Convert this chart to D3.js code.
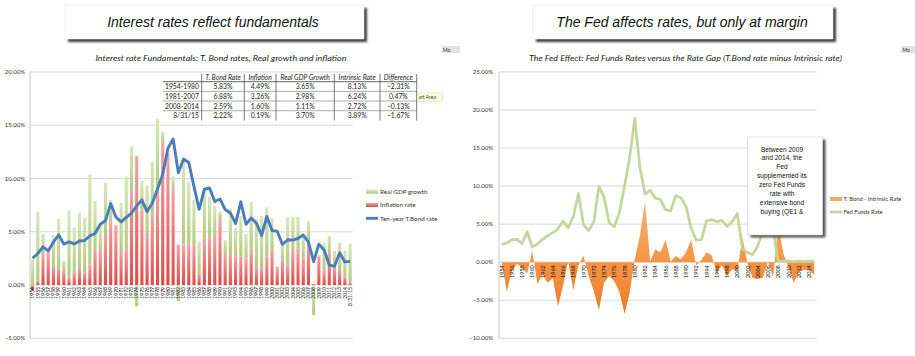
<!DOCTYPE html>
<html>
<head>
<meta charset="utf-8">
<script src="https://cdn.jsdelivr.net/npm/d3@7"></script>
<style>
  html, body { margin: 0; padding: 0; background: #ffffff; }
  svg { display: block; }
</style>
</head>
<body>
<script>
// ---------------- DATA ----------------
const leftCategories = ["1954","1955","1956","1957","1958","1959","1960","1961","1962","1963","1964","1965","1966","1967","1968","1969","1970","1971","1972","1973","1974","1975","1976","1977","1978","1979","1980","1981","1982","1983","1984","1985","1986","1987","1988","1989","1990","1991","1992","1993","1994","1995","1996","1997","1998","1999","2000","2001","2002","2003","2004","2005","2006","2007","2008","2009","2010","2011","2012","2013","2014","8/31/15"];
const inflationRate = [-0.5,0.4,2.9,3.0,1.8,1.5,1.4,0.7,1.2,1.6,1.2,1.9,3.4,3.2,4.7,6.0,5.6,3.3,3.4,8.9,12.1,7.1,4.9,6.7,9.0,13.3,12.4,8.9,3.8,3.8,3.9,3.8,1.1,4.4,4.4,4.6,6.2,2.9,2.9,2.7,2.7,2.5,3.4,1.7,1.6,2.7,3.4,1.6,2.4,1.9,3.3,3.4,2.5,4.1,0.1,2.7,1.4,3.0,1.7,1.5,0.8,0.19];
const realGdpGrowth = [2.4,6.5,1.9,0.2,2.9,4.7,0.9,6.3,4.2,5.2,5.1,8.5,4.5,2.4,4.9,2.0,0.0,4.4,6.8,4.1,-2.0,2.7,4.5,4.9,6.6,1.1,0.0,1.3,-1.5,8.0,5.8,4.2,3.0,4.5,3.9,2.8,0.7,1.3,4.3,2.7,3.8,2.3,4.4,4.5,4.9,4.6,2.9,0.2,1.6,4.5,3.1,3.0,2.2,1.9,-2.8,0.1,2.6,1.6,1.5,2.5,2.4,3.70];
const tenYearTBond = [2.51,2.96,3.59,3.21,4.02,4.72,3.84,4.06,3.86,4.13,4.18,4.62,4.84,5.70,6.03,7.65,6.39,5.93,6.36,6.74,7.43,8.00,6.87,7.69,9.01,10.39,12.84,13.72,10.54,11.83,11.50,9.26,7.11,8.99,9.11,7.84,8.08,7.09,6.77,5.77,7.81,5.71,6.30,5.81,4.65,6.44,5.11,5.05,3.81,4.25,4.22,4.39,4.70,4.02,2.21,3.84,3.29,1.88,1.76,3.04,2.17,2.22];
const leftTicks = [-5,0,5,10,15,20];

const tableRowLabels = ["1954-1980","1981-2007","2008-2014","8/31/15"];
const tableHeaders = ["T. Bond Rate","Inflation","Real GDP Growth","Intrinsic Rate","Difference"];
const tableValues = [
  [5.83,4.49,3.65,8.13,-2.31],
  [6.88,3.26,2.98,6.24,0.47],
  [2.59,1.60,1.11,2.72,-0.13],
  [2.22,0.19,3.70,3.89,-1.67]
];

const rightYears = d3.range(1954, 2016).map(String);
const rateGap = [0.3,-3.9,-1.2,-0.2,-0.7,-1.5,1.5,-2.9,-1.6,-2.7,-2.1,-5.8,-3.1,0.1,-3.7,-0.4,0.8,-1.8,-3.8,-6.3,-2.7,-1.8,-2.5,-3.9,-6.8,-4.0,0.4,3.5,8.0,0.1,1.7,1.3,2.9,0.1,0.8,0.4,1.3,2.9,-0.4,0.3,1.3,0.9,-1.5,-0.4,-1.8,-0.9,-1.2,3.3,-0.2,-2.1,-2.2,-2.0,0.1,-2.0,5.0,1.1,-0.7,-2.7,-1.3,-1.0,-1.0,-1.67];
const fedFundsRate = [2.35,2.5,2.95,3.0,2.45,4.0,2.0,2.4,3.0,3.45,3.9,4.35,5.4,4.5,6.0,9.0,4.9,4.15,5.3,9.95,8.55,5.2,4.65,6.55,10.0,13.8,18.9,12.4,8.95,9.45,8.4,8.25,6.9,6.75,8.75,8.45,7.3,4.45,2.9,2.95,5.45,5.6,5.3,5.5,4.7,5.3,6.4,1.8,1.25,1.0,2.15,4.15,5.25,4.25,0.15,0.12,0.18,0.07,0.16,0.09,0.12,0.14];
const rightTicks = [-10,-5,0,5,10,15,20,25];

const leftTitle = "Interest rates reflect fundamentals";
const rightTitle = "The Fed affects rates, but only at margin";
const leftSubtitle = "Interest rate Fundamentals: T. Bond rates, Real growth and inflation";
const rightSubtitle = "The Fed Effect: Fed Funds Rates versus the Rate Gap (T.Bond rate minus Intrinsic rate)";
const leftLegend = ["Real GDP growth","Inflation rate","Ten-year T.Bond rate"];
const rightLegend = ["T. Bond - Intrinsic Rate","Fed Funds Rate"];
const noteLines = ["Between 2009","and 2014, the","Fed","supplemented its","zero Fed Funds","rate with","extensive bond","buying (QE1 &"];

// ---------------- SETUP ----------------
const svg = d3.select("body").append("svg").attr("width", 915).attr("height", 356);
const defs = svg.append("defs");
const cal = "Lato, 'Open Sans', sans-serif";
const arial = "'Liberation Sans', Arial, sans-serif";

function vgrad(id, stops, units, y1, y2) {
  const g = defs.append("linearGradient").attr("id", id).attr("x1", 0).attr("x2", 0);
  if (units) { g.attr("gradientUnits", "userSpaceOnUse").attr("y1", y1).attr("y2", y2); }
  else { g.attr("y1", 0).attr("y2", 1); }
  stops.forEach(s => g.append("stop").attr("offset", s[0]).attr("stop-color", s[1]));
}
vgrad("gGreen", [[0,"#d9e7bd"],[1,"#b2cc7e"]]);
vgrad("gRed", [[0,"#f2a6a4"],[1,"#dc4b48"]]);
vgrad("gArea", [[0,"#fde6d2"],[0.45,"#faad6e"],[0.7,"#f79646"],[1,"#e8792a"]], true, 120, 318);
const blur = defs.append("filter").attr("id", "blur").attr("x", "-10%").attr("y", "-10%").attr("width", "130%").attr("height", "130%");
blur.append("feGaussianBlur").attr("stdDeviation", 1);

// ---------------- TITLE BOXES ----------------
function titleBox(x, y, w, h, text, cx) {
  svg.append("rect").attr("x", x + 3).attr("y", y + 3).attr("width", w).attr("height", h)
    .attr("fill", "#404040").attr("filter", "url(#blur)");
  svg.append("rect").attr("x", x).attr("y", y).attr("width", w).attr("height", h)
    .attr("fill", "#ffffff").attr("stroke", "#e6e6e6").attr("stroke-width", 0.6);
  svg.append("text").attr("x", cx).attr("y", y + h / 2 + 5).attr("text-anchor", "middle")
    .attr("font-family", arial).attr("font-style", "italic").attr("font-size", 14).attr("fill", "#111")
    .text(text);
}
titleBox(65, 5, 299, 34, leftTitle, 213);
titleBox(533, 5, 300, 34, rightTitle, 682);

// ---------------- LEFT CHART ----------------
const yL = d3.scaleLinear().domain([-5, 20]).range([338.3, 72]);
const xL = d3.scaleBand().domain(leftCategories).range([30, 352.7]).paddingInner(0.4).paddingOuter(0.2);
const cL = d => xL(d) + xL.bandwidth() / 2;
const gL = svg.append("g");

gL.append("text").attr("x", 221).attr("y", 60.5).attr("text-anchor", "middle")
  .attr("font-family", cal).attr("font-style", "italic").attr("font-size", 8.5).attr("fill", "#222")
  .attr("textLength", 251).attr("lengthAdjust", "spacingAndGlyphs").text(leftSubtitle);

gL.selectAll(".gl").data(leftTicks).join("line")
  .attr("x1", 30).attr("x2", 352.7).attr("y1", d => yL(d)).attr("y2", d => yL(d))
  .attr("stroke", "#d9d9d9").attr("stroke-width", 1);
gL.append("line").attr("x1", 30).attr("x2", 30).attr("y1", yL(20)).attr("y2", yL(-5)).attr("stroke", "#c8c8c8");
gL.selectAll(".tl").data(leftTicks).join("text")
  .attr("x", 25).attr("y", d => yL(d) + 2).attr("text-anchor", "end")
  .attr("font-family", cal).attr("font-size", 6).attr("fill", "#333")
  .text(d => d3.format(".2f")(d) + "%");

const leftRows = leftCategories.map((c, i) => ({ cat: c, infl: inflationRate[i], growth: realGdpGrowth[i] }));
const stack = d3.stack().keys(["infl", "growth"]).offset(d3.stackOffsetDiverging)(leftRows);
const fills = { infl: "url(#gRed)", growth: "url(#gGreen)" };
stack.forEach(layer => {
  gL.append("g").selectAll("rect").data(layer).join("rect")
    .attr("x", d => xL(d.data.cat)).attr("width", xL.bandwidth())
    .attr("y", d => yL(Math.max(d[0], d[1])))
    .attr("height", d => Math.abs(yL(d[0]) - yL(d[1])))
    .attr("fill", fills[layer.key]);
});

gL.append("path").datum(tenYearTBond)
  .attr("d", d3.line().x((d, i) => cL(leftCategories[i])).y(d => yL(d)))
  .attr("fill", "none").attr("stroke", "#4a7ebb").attr("stroke-width", 2.9).attr("stroke-linejoin", "round");

gL.selectAll(".xl").data(leftCategories).join("text")
  .attr("transform", d => `translate(${cL(d) + 1.8},${yL(0) + 2}) rotate(-90)`)
  .attr("text-anchor", "end").attr("font-family", cal).attr("font-size", 5).attr("fill", "#111")
  .text(d => d);

// legend
const legY = [191.7, 205, 218.3];
gL.append("rect").attr("x", 366).attr("y", legY[0] - 2).attr("width", 12).attr("height", 4).attr("fill", "url(#gGreen)");
gL.append("rect").attr("x", 366).attr("y", legY[1] - 2).attr("width", 12).attr("height", 4).attr("fill", "url(#gRed)");
gL.append("line").attr("x1", 366).attr("x2", 378).attr("y1", legY[2]).attr("y2", legY[2]).attr("stroke", "#4a7ebb").attr("stroke-width", 2.9);
gL.selectAll(".lg").data(leftLegend).join("text")
  .attr("x", 380).attr("y", (d, i) => legY[i] + 2.2)
  .attr("font-family", cal).attr("font-size", 6.3).attr("fill", "#333").text(d => d);

// table
const colX = [163, 201.7, 244.3, 276, 334.3, 380, 416.7];
const rowLineY = [81.7, 91.4, 101, 110.7];
const tg = gL.append("g").attr("font-family", cal).attr("font-size", 6.8).attr("fill", "#222");
tg.append("rect").attr("x", 163).attr("y", 73.5).attr("width", 253.7).attr("height", 47).attr("fill", "#fff");
tg.selectAll(".hl").data(rowLineY).join("line")
  .attr("x1", 163).attr("x2", 416.7).attr("y1", d => d).attr("y2", d => d)
  .attr("stroke", (d, i) => i === 0 ? "#555" : "#888").attr("stroke-width", (d, i) => i === 0 ? 0.9 : 0.7);
tg.selectAll(".vl").data(colX.slice(1)).join("line")
  .attr("x1", d => d).attr("x2", d => d).attr("y1", 74).attr("y2", 120.5)
  .attr("stroke", "#555").attr("stroke-width", 0.8);
tg.selectAll(".th").data(tableHeaders).join("text")
  .attr("x", (d, i) => (colX[i + 1] + colX[i + 2]) / 2).attr("y", 79.6).attr("text-anchor", "middle")
  .attr("font-style", "italic").text(d => d);
tg.selectAll(".rl").data(tableRowLabels).join("text")
  .attr("x", 199).attr("y", (d, i) => 89.3 + i * 9.7).attr("text-anchor", "end").text(d => d);
tableValues.forEach((row, r) => {
  tg.selectAll(".tv" + r).data(row).join("text")
    .attr("x", (d, i) => (colX[i + 1] + colX[i + 2]) / 2).attr("y", 89.3 + r * 9.7).attr("text-anchor", "middle")
    .text(d => d3.format(".2f")(d) + "%");
});

// small UI artifacts
svg.append("rect").attr("x", 417.5).attr("y", 93).attr("width", 25).attr("height", 8.5).attr("fill", "#ffffe1").attr("stroke", "#d8d8b0").attr("stroke-width", 0.5);
svg.append("text").attr("x", 418.5).attr("y", 99.3).attr("font-family", cal).attr("font-size", 5).attr("fill", "#333").text("art Area");
svg.append("rect").attr("x", 441.5).attr("y", 46).attr("width", 18.5).attr("height", 7).attr("fill", "#e2e2e2");
svg.append("text").attr("x", 443).attr("y", 51.5).attr("font-family", cal).attr("font-size", 5).attr("fill", "#333").text("Mo");
svg.append("rect").attr("x", 901).attr("y", 46).attr("width", 14).attr("height", 7).attr("fill", "#e2e2e2");
svg.append("text").attr("x", 902.5).attr("y", 51.5).attr("font-family", cal).attr("font-size", 5).attr("fill", "#333").text("Mo");

// ---------------- RIGHT CHART ----------------
const yR = d3.scaleLinear().domain([-10, 25]).range([338.3, 71.9]);
const xR = d3.scaleBand().domain(rightYears).range([499, 816.7]).paddingInner(0.4).paddingOuter(0.2);
const cR = d => xR(d) + xR.bandwidth() / 2;
const gR = svg.append("g");

gR.append("text").attr("x", 685.5).attr("y", 60.5).attr("text-anchor", "middle")
  .attr("font-family", cal).attr("font-style", "italic").attr("font-size", 8.5).attr("fill", "#222")
  .attr("textLength", 313).attr("lengthAdjust", "spacingAndGlyphs").text(rightSubtitle);

gR.selectAll(".gl").data(rightTicks).join("line")
  .attr("x1", 499).attr("x2", 816.7).attr("y1", d => yR(d)).attr("y2", d => yR(d))
  .attr("stroke", "#d9d9d9").attr("stroke-width", 1);
gR.append("line").attr("x1", 499).attr("x2", 499).attr("y1", yR(25)).attr("y2", yR(-10)).attr("stroke", "#c8c8c8");
gR.selectAll(".tl").data(rightTicks).join("text")
  .attr("x", 493).attr("y", d => yR(d) + 2).attr("text-anchor", "end")
  .attr("font-family", cal).attr("font-size", 6).attr("fill", "#333")
  .text(d => d3.format(".2f")(d) + "%");

gR.append("path").datum(rateGap)
  .attr("d", d3.area().x((d, i) => cR(rightYears[i])).y0(yR(0)).y1(d => yR(d)))
  .attr("fill", "url(#gArea)");

gR.selectAll(".xl").data(rightYears.filter((d, i) => i % 2 === 0)).join("text")
  .attr("transform", d => `translate(${cR(d) + 2},${yR(0) + 3}) rotate(-90)`)
  .attr("text-anchor", "end").attr("font-family", cal).attr("font-size", 5.5).attr("fill", "#111")
  .text(d => d);

gR.append("path").datum(fedFundsRate)
  .attr("d", d3.line().x((d, i) => cR(rightYears[i])).y(d => yR(d)))
  .attr("fill", "none").attr("stroke", "#c3d69b").attr("stroke-width", 2.7).attr("stroke-linejoin", "round");

// legend
gR.append("rect").attr("x", 830).attr("y", 197).attr("width", 12).attr("height", 4).attr("fill", "#f9a868");
gR.append("line").attr("x1", 830).attr("x2", 842).attr("y1", 212).attr("y2", 212).attr("stroke", "#c3d69b").attr("stroke-width", 2.7);
gR.selectAll(".lg").data(rightLegend).join("text")
  .attr("x", 843.5).attr("y", (d, i) => [201.2, 214.2][i])
  .attr("font-family", cal).attr("font-size", 5.8).attr("fill", "#333").text(d => d);

// annotation box
svg.append("rect").attr("x", 750.5).attr("y", 139.5).attr("width", 75).attr("height", 98)
  .attr("fill", "#555").attr("filter", "url(#blur)");
svg.append("rect").attr("x", 747.7).attr("y", 137).attr("width", 75).attr("height", 98)
  .attr("fill", "#ffffff").attr("stroke", "#d0d0d0").attr("stroke-width", 0.6);
svg.selectAll(".note").data(noteLines).join("text")
  .attr("x", 782).attr("y", (d, i) => 151.5 + i * 8.9).attr("text-anchor", "middle")
  .attr("font-family", arial).attr("font-size", 6.6).attr("fill", "#111").text(d => d);
</script>
</body>
</html>
